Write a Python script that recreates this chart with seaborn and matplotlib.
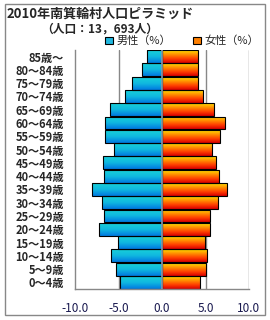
import numpy as np
import pandas as pd
import matplotlib
import matplotlib.pyplot as plt
from matplotlib.colors import LinearSegmentedColormap
from matplotlib.patches import Patch, Rectangle
import seaborn as sns

ages = ['85歳～', '80～84歳', '75～79歳', '70～74歳', '65～69歳',
        '60～64歳', '55～59歳', '50～54歳', '45～49歳', '40～44歳',
        '35～39歳', '30～34歳', '25～29歳', '20～24歳', '15～19歳',
        '10～14歳', '5～9歳', '0～4歳']
male = [1.7, 2.3, 3.4, 4.2, 6.0, 6.6, 6.6, 5.5, 6.8, 6.7,
        8.1, 6.9, 6.7, 7.2, 5.1, 5.9, 5.3, 4.8]
female = [4.1, 4.1, 4.1, 4.7, 6.0, 7.2, 6.7, 5.7, 6.2, 6.6,
          7.5, 6.4, 5.5, 5.5, 4.9, 5.2, 5.0, 4.4]
xticks = [-10, -5, 0, 5, 10]

df = pd.DataFrame({
    'age': ages * 2,
    'sex': ['男性'] * len(ages) + ['女性'] * len(ages),
    'value': [-v for v in male] + female,
})

sns.set_style('white')
plt.rcParams['font.family'] = ['Noto Sans CJK JP', 'DejaVu Sans']

fig = plt.figure(figsize=(2.7, 3.2), dpi=100)
ax = fig.add_axes([75 / 270, 1 - 289 / 320, 174 / 270, 239 / 320])

sns.barplot(data=df, x='value', y='age', hue='sex', order=ages,
            palette={'男性': '#20b8e0', '女性': '#ff8000'},
            dodge=False, width=0.97, orient='h', legend=False,
            edgecolor='black', linewidth=0.8, ax=ax)

blue_cm = LinearSegmentedColormap.from_list('b', ['#18d0d8', '#10b8e0', '#0078e0'])
red_cm = LinearSegmentedColormap.from_list('r', ['#ffe000', '#ff9000', '#ff4000', '#d80000'])
grad = np.linspace(0, 1, 64).reshape(-1, 1)

ylim = ax.get_ylim()
for p in list(ax.patches):
    bb = p.get_bbox()
    if bb.width == 0:
        continue
    cm = blue_cm if p.get_width() < 0 else red_cm
    im = ax.imshow(grad, cmap=cm, aspect='auto', origin='upper',
                   extent=(bb.xmin, bb.xmax, bb.ymax, bb.ymin),
                   zorder=p.get_zorder() - 0.1)
    im.set_clip_path(p)
    p.set_facecolor('none')
ax.set_xlim(-10, 10)
ax.set_ylim(ylim)

ax.axvline(0, color='#8a9aa8', lw=1.2, zorder=6)
for x in [-5, 5, 10]:
    ax.axvline(x, color='#888888', lw=1, zorder=0)

ax.set_xticks(xticks)
ax.set_xticklabels([f'{v:.1f}' for v in xticks], fontsize=8.5, color='#1a1a50')
ax.tick_params(axis='x', length=0, pad=9)
ax.tick_params(axis='y', length=0, pad=8, labelsize=8)
for t in ax.get_yticklabels():
    t.set_fontweight('bold')
ax.set_xlabel('')
ax.set_ylabel('')
for s in ['top', 'right']:
    ax.spines[s].set_visible(False)
for s in ['left', 'bottom']:
    ax.spines[s].set_color('#888888')
    ax.spines[s].set_linewidth(1)

fig.text(7 / 270, 1 - 14 / 320, '2010年南箕輪村人口ピラミッド', fontsize=9.4,
         fontweight='bold', va='center', ha='left')
fig.text(100 / 270, 1 - 29 / 320, '（人口：13，693人）', fontsize=8.5,
         fontweight='bold', va='center', ha='center')

handles = [Patch(facecolor='#20b8e0', edgecolor='black', linewidth=0.8),
           Patch(facecolor='#ff8000', edgecolor='black', linewidth=0.8)]
fig.legend(handles, ['男性（%）', '女性（%）'], loc='center',
           bbox_to_anchor=(182 / 270, 1 - 41 / 320), ncol=2, frameon=False,
           fontsize=8, handlelength=0.7, handleheight=0.7,
           handletextpad=0.3, columnspacing=2.0, borderpad=0)

fig.patches.append(Rectangle((5 / 270, 5 / 320), 260 / 270, 311 / 320,
                             transform=fig.transFigure, fill=False,
                             edgecolor='#888888', linewidth=1))

fig.savefig('out.png', dpi=100)
